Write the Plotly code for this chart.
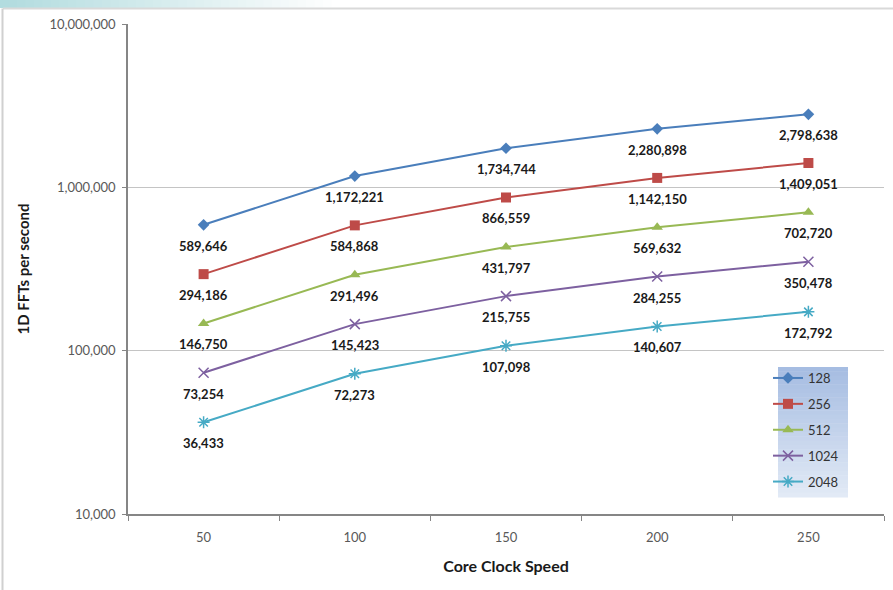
import math
import plotly.graph_objects as go

# Core clock speeds (x) and measured 1D FFT throughput per FFT size
clock_speeds = [50, 100, 150, 200, 250]
fft_sizes = ["128", "256", "512", "1024", "2048"]
fft_128 = [589646, 1172221, 1734744, 2280898, 2798638]
fft_256 = [294186, 584868, 866559, 1142150, 1409051]
fft_512 = [146750, 291496, 431797, 569632, 702720]
fft_1024 = [73254, 145423, 215755, 284255, 350478]
fft_2048 = [36433, 72273, 107098, 140607, 172792]
y_tick_values = [10000, 100000, 1000000, 10000000]
y_tick_labels = ["10,000", "100,000", "1,000,000", "10,000,000"]

series = [fft_128, fft_256, fft_512, fft_1024, fft_2048]
colors = ["#4a7ebb", "#be4b48", "#98b954", "#7d60a0", "#46aac5"]
symbols = ["diamond", "square", "triangle-up", "x-thin", "asterisk"]
sizes = [9, 10, 10, 10, 10]

W, H = 893, 590
L, R, T, B = 128, 884, 24, 514
FONT = "Lato"


def px_x(p):
    return (p - L) / (R - L)


def px_y(p):
    return (B - p) / (B - T)


fig = go.Figure()
annotations = []
for name, vals, col, sym, sz in zip(fft_sizes, series, colors, symbols, sizes):
    thin = sym in ("x-thin", "asterisk")
    fig.add_trace(go.Scatter(
        x=clock_speeds, y=vals, name=name, mode="lines+markers",
        legendgroup=name,
        line=dict(color=col, width=2),
        marker=dict(symbol=sym, size=sz, color=col,
                    line=dict(color=col, width=1.5 if thin else 0)),
    ))
    # value labels under each point (log axis -> annotation y in log10 units)
    for xv, yv in zip(clock_speeds, vals):
        annotations.append(dict(
            x=xv, y=math.log10(yv), yref="y", xref="x", text=f"{yv:,}",
            showarrow=False, yshift=-21,
            font=dict(family=FONT, size=13, color="#1a1a1a", weight="bold"),
        ))

shapes = []
# teal band along the top edge, fading to white
n = 40
band_w = 340
for i in range(n):
    t = i / (n - 1)
    r = int(0xb2 + (0xff - 0xb2) * t)
    g = int(0xdc + (0xff - 0xdc) * t)
    b = int(0xdf + (0xff - 0xdf) * t)
    shapes.append(dict(
        type="rect", xref="paper", yref="paper", layer="below",
        x0=px_x(i * band_w / n), x1=px_x((i + 1) * band_w / n + 0.5),
        y0=px_y(8), y1=px_y(-1),
        fillcolor=f"rgb({r},{g},{b})", line=dict(width=0),
    ))
# frame lines
shapes.append(dict(type="line", xref="paper", yref="paper",
                   x0=px_x(3), x1=px_x(W), y0=px_y(8.5), y1=px_y(8.5),
                   line=dict(color="#d9d9d9", width=2)))
shapes.append(dict(type="line", xref="paper", yref="paper",
                   x0=px_x(2.5), x1=px_x(2.5), y0=px_y(8.5), y1=px_y(H + 2),
                   line=dict(color="#d0d0d0", width=2)))

# gradient panel behind the legend
lg_x0, lg_x1, lg_y0, lg_y1 = 778, 848, 367, 497
m = 30
for i in range(m):
    t = i / (m - 1)
    r = int(0xa6 + (0xe2 - 0xa6) * t)
    g = int(0xbd + (0xea - 0xbd) * t)
    b = int(0xe2 + (0xf6 - 0xe2) * t)
    ya = lg_y0 + (lg_y1 - lg_y0) * i / m
    yb = lg_y0 + (lg_y1 - lg_y0) * (i + 1) / m + 0.5
    shapes.append(dict(
        type="rect", xref="paper", yref="paper", layer="below",
        x0=px_x(lg_x0), x1=px_x(lg_x1), y0=px_y(yb), y1=px_y(ya),
        fillcolor=f"rgb({r},{g},{b})", line=dict(width=0),
    ))

fig.update_layout(
    width=W, height=H,
    margin=dict(l=L, r=W - R, t=T, b=H - B),
    paper_bgcolor="white", plot_bgcolor="rgba(0,0,0,0)",
    font=dict(family=FONT, size=13, color="#595959"),
    showlegend=True,
    legend=dict(
        x=px_x(768), y=px_y(lg_y0 - 4), xanchor="left", yanchor="top",
        bgcolor="rgba(0,0,0,0)", borderwidth=0,
        font=dict(family=FONT, size=13, color="#333333"),
        traceorder="grouped", tracegroupgap=6, itemwidth=30,
    ),
    shapes=shapes,
    annotations=annotations,
    xaxis=dict(
        range=[25, 275], tickvals=clock_speeds,
        ticktext=[str(v) for v in clock_speeds],
        ticks="", showgrid=False, zeroline=False,
        showline=True, linecolor="#868686", linewidth=1.5,
        ticklabelstandoff=11,
        tickfont=dict(family=FONT, size=13, color="#595959"),
        minor=dict(tickmode="array", tickvals=[25, 75, 125, 175, 225, 275],
                   ticks="outside", ticklen=5, tickcolor="#868686",
                   showgrid=False),
        title=dict(text="Core Clock Speed", standoff=16,
                   font=dict(family=FONT, size=16, color="#1a1a1a",
                             weight="bold")),
    ),
    yaxis=dict(
        type="log", range=[4, 7],
        tickvals=y_tick_values, ticktext=y_tick_labels,
        ticks="outside", ticklen=4, tickcolor="#868686",
        ticklabelstandoff=4,
        showgrid=True, gridcolor="#c4c4c4", gridwidth=1,
        zeroline=False, showline=True, linecolor="#868686", linewidth=1.5,
        tickfont=dict(family=FONT, size=13, color="#595959"),
        title=dict(text="1D FFTs per second", standoff=16,
                   font=dict(family=FONT, size=15, color="#1a1a1a",
                             weight="bold")),
    ),
)

fig.write_html("out.html")
